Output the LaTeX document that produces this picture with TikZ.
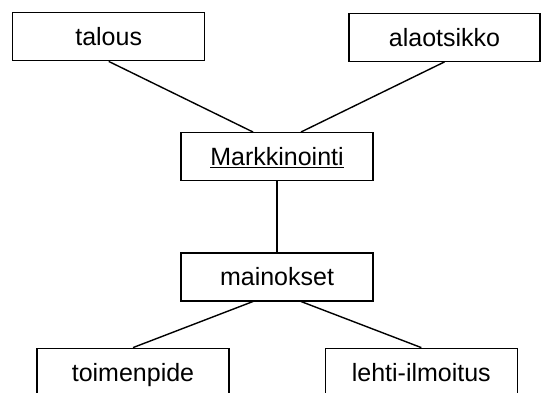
\documentclass[tikz,border=0pt]{standalone}
\usepackage{fontspec}
\setmainfont{Liberation Sans}
\begin{document}
\begin{tikzpicture}[x=1pt,y=-1pt,
  box/.style={draw=black,line width=1.4pt,fill=white,minimum width=192pt,minimum height=48pt,inner sep=0pt,
    text height=18pt,text depth=0pt,font=\fontsize{25}{30}\selectfont},
  link/.style={draw=black,line width=1.4pt}]
\useasboundingbox (0,0) rectangle (541,392);
\clip (0,0) rectangle (541,392);
\node[box] (talous) at (108.7,36.7) {talous};
\node[box,minimum width=191pt] (ala) at (444.5,37.2) {alaotsikko};
\node[box] (mark) at (277,156.7) {\underline{Markkinointi}};
\node[box] (main) at (277,276.8) {mainokset};
\node[box] (toim) at (133,372.3) {toimenpide};
\node[box] (lehti) at (421.3,372.3) {lehti-ilmoitus};
\draw[link] (talous.south) -- ([xshift=-24pt]mark.north);
\draw[link] (ala.south) -- ([xshift=24pt]mark.north);
\draw[link] (mark.south) -- (main.north);
\draw[link] ([xshift=-24pt]main.south) -- (toim.north);
\draw[link] ([xshift=24pt]main.south) -- (lehti.north);
\end{tikzpicture}
\end{document}
